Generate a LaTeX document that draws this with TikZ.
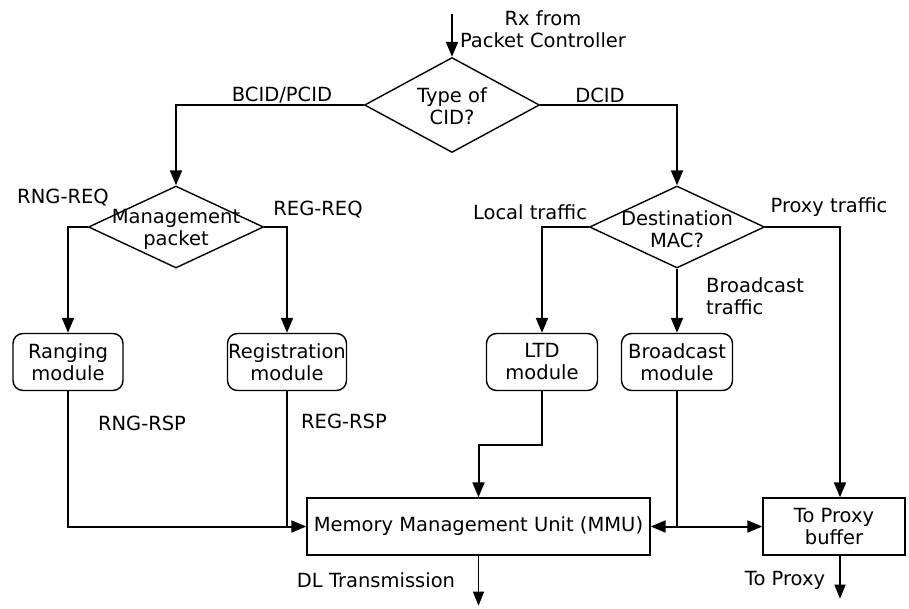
\documentclass[tikz,border=0pt]{standalone}
\usepackage{fontspec}
\setmainfont{DejaVu Sans}
\usetikzlibrary{shapes.geometric,arrows.meta}
\begin{document}
\begin{tikzpicture}[x=1pt,y=-1pt,
 every node/.style={font=\fontsize{19.5}{22}\selectfont},
 line/.style={line width=2pt},
 arr/.style={line, -{Triangle[length=15pt,width=12pt]}},
 thinarr/.style={line width=1.2pt, -{Triangle[length=14pt,width=11pt]}},
 dec/.style={draw, diamond, line width=1.4pt, inner sep=0pt},
 mod/.style={draw, rounded corners=10pt, line width=1.4pt, align=center, inner sep=0pt},
 box/.style={draw, line width=1.4pt, align=center, inner sep=0pt},
 lbl/.style={inner sep=0pt, align=center}]
\useasboundingbox (0,0) rectangle (909,608);

\node[dec, minimum width=175pt, minimum height=95pt] (cid) at (452,105) {};
\node[lbl] (cidt) at (452,106) {Type of\\CID?};
\node[dec, minimum width=175pt, minimum height=82pt] (mgmt) at (176,227) {};
\node[lbl] (mgmtt) at (176,229) {Management\\packet};
\node[dec, minimum width=175pt, minimum height=82pt] (dst) at (677,227) {};
\node[lbl] (dstt) at (677,229) {Destination\\MAC?};

\node[mod, minimum width=110pt, minimum height=57pt] (rng) at (68,362) {Ranging\\module};
\node[mod, minimum width=119pt, minimum height=57pt] (reg) at (287,362) {Registration\\module};
\node[mod, minimum width=111pt, minimum height=57pt] (ltd) at (542,362) {LTD\\module};
\node[mod, minimum width=111pt, minimum height=57pt] (bc) at (677,362) {Broadcast\\module};
\node[box, minimum width=343pt, minimum height=57pt] (mmu) at (478.5,526.5) {Memory Management Unit (MMU)};
\node[box, minimum width=142pt, minimum height=57pt] (prx) at (834,526.5) {To Proxy\\buffer};

\coordinate (top) at (452,14);
\draw[arr] (top) -- (cid.north);
\node[lbl] (rx) at (543,29) {Rx from\\Packet Controller};

\draw[arr] (cid.west) -| (mgmt.north);
\draw[arr] (cid.east) -| (dst.north);
\node[lbl] (bcid) at (282,95) {BCID/PCID};
\node[lbl] (dcid) at (600,95) {DCID};

\draw[arr] (mgmt.west) -| (rng.north);
\draw[arr] (mgmt.east) -| (reg.north);
\node[lbl] (rngreq) at (63,198) {RNG-REQ};
\node[lbl] (regreq) at (318,210) {REG-REQ};

\draw[arr] (dst.west) -| (ltd.north);
\draw[arr] (dst.south) -- (bc.north);
\draw[arr] (dst.east) -| ([xshift=6pt]prx.north);
\node[lbl] (local) at (530,212) {Local traffic};
\node[lbl] (proxyt) at (829,207) {Proxy traffic};
\node[lbl, align=left, anchor=west] (bct) at (706,296) {Broadcast\\traffic};

\draw[arr] (rng.south) |- (mmu.west);
\draw[line] (reg.south) -- (reg.south |- mmu.west);
\node[lbl] (rngrsp) at (142,423) {RNG-RSP};
\node[lbl] (regrsp) at (344,421) {REG-RSP};

\draw[arr] (ltd.south) -- ++(0,54) -| (mmu.north);
\coordinate (bj) at (bc.south |- mmu.east);
\draw[line] (bc.south) -- (bj);
\draw[arr] (bj) -- (mmu.east);
\draw[arr] (bj) -- (prx.west);

\draw[thinarr] (mmu.south) -- ++(0,50);
\node[lbl] (dl) at (376,580) {DL Transmission};
\draw[thinarr] ([xshift=6pt]prx.south) -- ++(0,43);
\node[lbl] (toproxy) at (785,580) {To Proxy};
\end{tikzpicture}
\end{document}
